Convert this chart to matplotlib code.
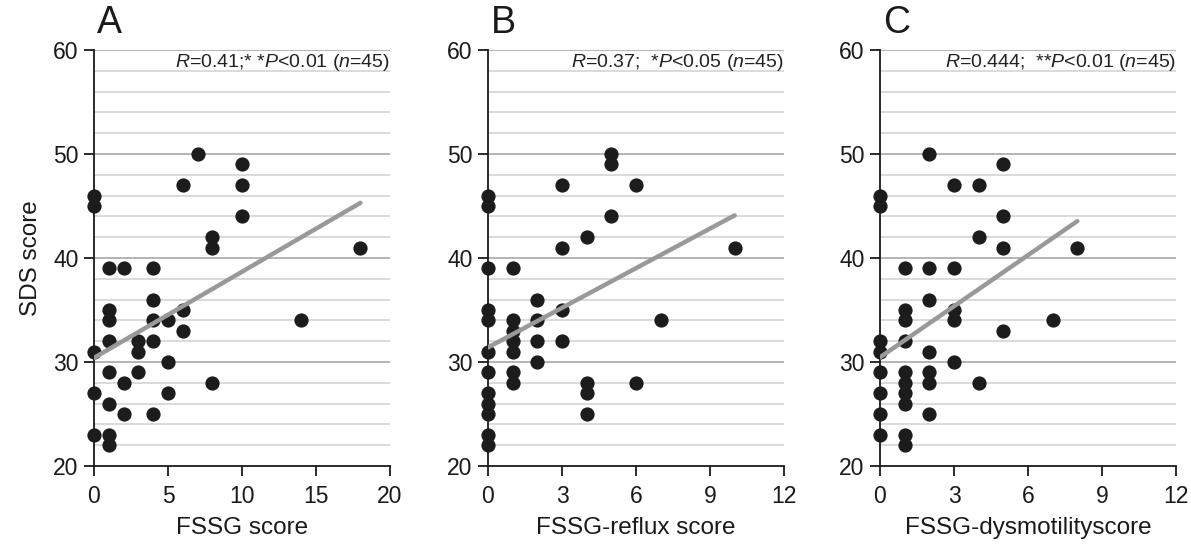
import matplotlib
matplotlib.use("Agg")
import matplotlib.pyplot as plt
import numpy as np

plt.rcParams['font.family'] = ['Liberation Sans', 'DejaVu Sans']
plt.rcParams['mathtext.fontset'] = 'custom'
plt.rcParams['mathtext.rm'] = 'Liberation Sans'
plt.rcParams['mathtext.it'] = 'Liberation Sans:italic'

# ---- Data ----
a_x = [0, 0, 0, 0, 0,
       1, 1, 1, 1, 1, 1, 1, 1,
       2, 2, 2,
       3, 3, 3,
       4, 4, 4, 4, 4,
       5, 5, 5,
       6, 6, 6,
       7,
       8, 8, 8,
       10, 10, 10,
       14, 18]
a_y = [46, 45, 31, 27, 23,
       39, 35, 34, 32, 29, 26, 23, 22,
       39, 28, 25,
       32, 31, 29,
       39, 36, 34, 32, 25,
       34, 30, 27,
       47, 35, 33,
       50,
       42, 41, 28,
       49, 47, 44,
       34, 41]
a_fit_x = [0, 18]
a_fit_y = [30.4, 45.3]

b_x = [0, 0, 0, 0, 0, 0, 0, 0, 0, 0, 0, 0,
       1, 1, 1, 1, 1, 1, 1,
       2, 2, 2, 2,
       3, 3, 3, 3,
       4, 4, 4, 4,
       5, 5, 5,
       6, 6,
       7, 10]
b_y = [46, 45, 39, 35, 34, 31, 29, 27, 26, 25, 23, 22,
       39, 34, 33, 32, 31, 29, 28,
       36, 34, 32, 30,
       47, 41, 35, 32,
       42, 28, 27, 25,
       50, 49, 44,
       47, 28,
       34, 41]
b_fit_x = [0, 10]
b_fit_y = [31.4, 44.1]

c_x = [0, 0, 0, 0, 0, 0, 0, 0,
       1, 1, 1, 1, 1, 1, 1, 1, 1, 1,
       2, 2, 2, 2, 2, 2, 2,
       3, 3, 3, 3, 3,
       4, 4, 4,
       5, 5, 5, 5,
       7, 8]
c_y = [46, 45, 32, 31, 29, 27, 25, 23,
       39, 35, 34, 32, 29, 28, 27, 26, 23, 22,
       50, 39, 36, 31, 29, 28, 25,
       47, 39, 35, 34, 30,
       47, 42, 28,
       49, 44, 41, 33,
       34, 41]
c_fit_x = [0, 8]
c_fit_y = [30.45, 43.55]

panels = [
    dict(letter='A', x=a_x, y=a_y, fx=a_fit_x, fy=a_fit_y, xlim=(0, 20), xticks=[0, 5, 10, 15, 20],
         xlabel='FSSG score',
         note=r'$\mathit{R}$=0.41;* *$\mathit{P}$<0.01 $\mathit{(n}$=$\mathit{45)}$'),
    dict(letter='B', x=b_x, y=b_y, fx=b_fit_x, fy=b_fit_y, xlim=(0, 12), xticks=[0, 3, 6, 9, 12],
         xlabel='FSSG-reflux score',
         note=r'$\mathit{R}$=0.37;  *$\mathit{P}$<0.05 $\mathit{(n}$=$\mathit{45)}$'),
    dict(letter='C', x=c_x, y=c_y, fx=c_fit_x, fy=c_fit_y, xlim=(0, 12), xticks=[0, 3, 6, 9, 12],
         xlabel='FSSG-dysmotilityscore',
         note=r'$\mathit{R}$=0.444;  **$\mathit{P}$<0.01 $\mathit{(n}$=$\mathit{45)}$'),
]

W, H = 1191, 547
fig = plt.figure(figsize=(W / 100, H / 100), dpi=100)
lefts = [94, 488, 880]
aw = 296
top_px, bot_px = 50, 466

for i, p in enumerate(panels):
    ax = fig.add_axes([lefts[i] / W, (H - bot_px) / H, aw / W, (bot_px - top_px) / H])
    ax.set_xlim(*p['xlim'])
    ax.set_ylim(20, 60)
    # horizontal grid lines
    for g in range(22, 61, 2):
        col = '#a8a8a8' if g % 10 == 0 else '#d4d4d4'
        ax.axhline(g, color=col, lw=1.2, zorder=0)
    ax.scatter(p['x'], p['y'], s=105, color='#1c1c1c', zorder=3, clip_on=False, linewidths=0)
    ax.plot(p['fx'], p['fy'], color='#999999', lw=3.2, solid_capstyle='round', zorder=4)
    for s in ['top', 'right']:
        ax.spines[s].set_visible(False)
    for s in ['left', 'bottom']:
        ax.spines[s].set_linewidth(1.3)
        ax.spines[s].set_color('#1a1a1a')
    ax.set_xticks(p['xticks'])
    ax.set_yticks([20, 30, 40, 50, 60])
    ax.tick_params(axis='both', direction='out', length=7, width=1.3, labelsize=16.5,
                   colors='#1a1a1a', pad=4)
    ax.tick_params(axis='x', pad=7)
    ax.set_xlabel(p['xlabel'], fontsize=17.5, color='#1a1a1a', labelpad=6)
    if i == 0:
        ax.set_ylabel('SDS score', fontsize=17.5, color='#1a1a1a', labelpad=8)
    ax.text(1.0, 58.8, p['note'], transform=ax.get_yaxis_transform(), ha='right', va='center',
            fontsize=14, color='#222222')
    ax.text(0.01, 1.064, p['letter'], transform=ax.transAxes, ha='left', va='center',
            fontsize=27, color='#1a1a1a')
    ax.set_facecolor('white')

fig.savefig('out.png', dpi=100, facecolor='white')
